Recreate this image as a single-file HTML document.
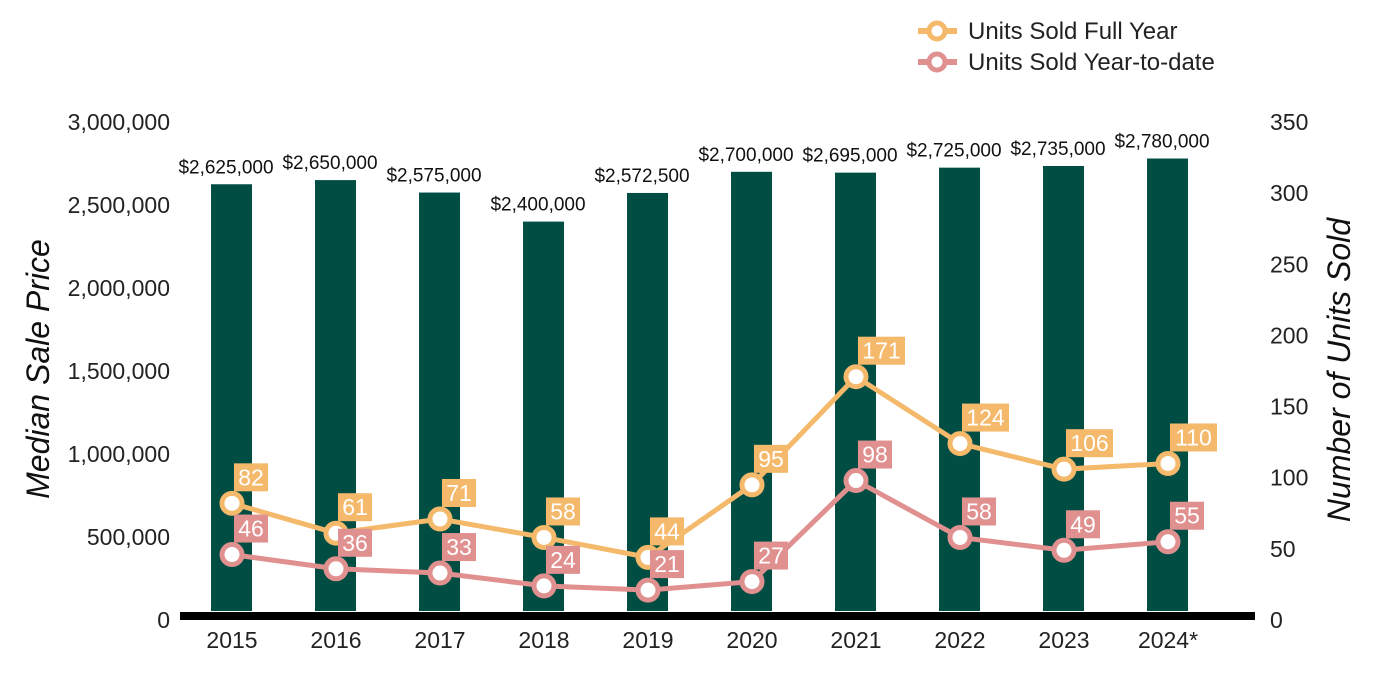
<!DOCTYPE html>
<html><head><meta charset="utf-8"><style>
body{margin:0;background:#fff;}
svg{display:block;font-family:"Liberation Sans",Arial,sans-serif;}
</style></head><body>
<svg id="chart" width="1400" height="700"></svg>
<script>
const years=["2015","2016","2017","2018","2019","2020","2021","2022","2023","2024*"];
const prices=[2625000,2650000,2575000,2400000,2572500,2700000,2695000,2725000,2735000,2780000];
const fullYear=[82,61,71,58,44,95,171,124,106,110];
const ytd=[46,36,33,24,21,27,98,58,49,55];
const leftTicks=[0,500000,1000000,1500000,2000000,2500000,3000000];
const rightTicks=[0,50,100,150,200,250,300,350];
const NS="http://www.w3.org/2000/svg";
const svg=document.getElementById('chart');
const y0=620,yTop=122;
const yL=v=>y0-v/3000000*(y0-yTop);
const yR=v=>y0-v/350*(y0-yTop);
const xC=i=>232+i*104;
function mk(tag,attrs,parent){const e=document.createElementNS(NS,tag);for(const k in attrs)e.setAttribute(k,attrs[k]);(parent||svg).appendChild(e);return e;}
function txt(s,attrs){const t=mk('text',attrs);t.textContent=s;return t;}
const fmt=v=>v.toLocaleString('en-US');
leftTicks.forEach(v=>{const t=txt(fmt(v),{x:170,y:yL(v)+8,'text-anchor':'end','font-size':23,fill:'#222'});

});
rightTicks.forEach(v=>{const t=txt(String(v),{x:1270,y:yR(v)+8,'font-size':23,fill:'#222'});

});
let a=txt('Median Sale Price',{x:0,y:0,transform:'translate(49,369) rotate(-90)','text-anchor':'middle','font-size':32,'font-style':'italic',fill:'#111'});


a=txt('Number of Units Sold',{x:0,y:0,transform:'translate(1350,370) rotate(-90)','text-anchor':'middle','font-size':32,'font-style':'italic',fill:'#111'});


prices.forEach((v,i)=>{const r=mk('rect',{x:xC(i)-21,y:yL(v),width:41,height:611-yL(v),fill:'#004D44'});


const t=txt('$'+fmt(v),{x:xC(i)-6,y:yL(v)-11,'text-anchor':'middle','font-size':19,fill:'#111'});


const yl=txt(years[i],{x:xC(i),y:648,'text-anchor':'middle','font-size':23,fill:'#222'});

});
const ax=mk('line',{x1:180,x2:1255,y1:616,y2:616,stroke:'#000','stroke-width':8});


function series(data,color,name){
 const pts=data.map((v,i)=>xC(i)+','+yR(v)).join(' ');
 const pl=mk('polyline',{points:pts,fill:'none',stroke:color,'stroke-width':5});
 
 
 data.forEach((v,i)=>{const c=mk('circle',{cx:xC(i),cy:yR(v),r:10,fill:'#fff',stroke:color,'stroke-width':5});
 
 
 const s=String(v);const w=s.length*13+8;
 const b=mk('rect',{x:xC(i)+2,y:yR(v)-40,width:w,height:28,fill:color});
 
 
 const t=txt(s,{x:xC(i)+2+w/2,y:yR(v)-18,'text-anchor':'middle','font-size':23,fill:'#fff'});
 
 });
}
series(fullYear,'#F5B96B','full-year');
series(ytd,'#E0908F','ytd');
[['Units Sold Full Year','#F5B96B',31],['Units Sold Year-to-date','#E0908F',62]].forEach(([l,c,y])=>{
 const g=mk('g',{});
 
 
 mk('line',{x1:918,x2:957,y1:y,y2:y,stroke:c,'stroke-width':6},g);
 mk('circle',{cx:937,cy:y,r:8,fill:'#fff',stroke:c,'stroke-width':5},g);
 const t=mk('text',{x:968,y:y+8,'font-size':24,fill:'#222'},g);t.textContent=l;
});
</script>
</body></html>
